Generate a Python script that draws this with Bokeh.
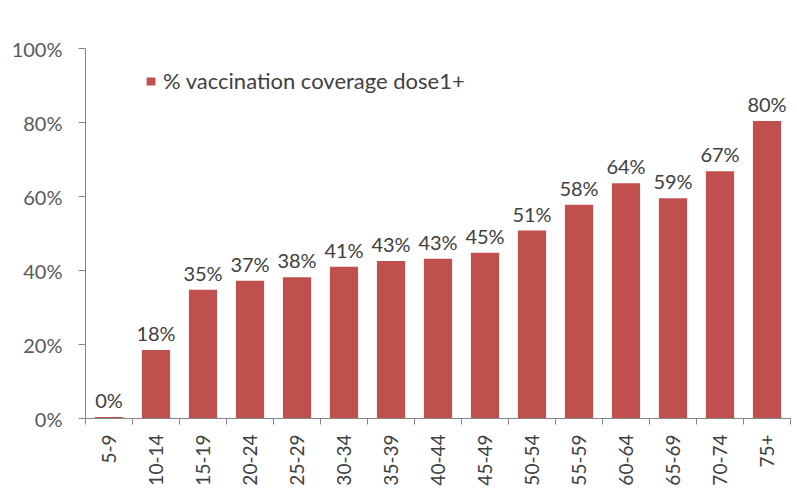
from math import pi
from bokeh.plotting import figure
from bokeh.models import ColumnDataSource, Range1d, FixedTicker, PrintfTickFormatter, Legend, LegendItem, LabelSet
from bokeh.core.properties import value
from bokeh.embed import file_html
from bokeh.resources import INLINE

categories = ["5-9", "10-14", "15-19", "20-24", "25-29", "30-34", "35-39", "40-44",
              "45-49", "50-54", "55-59", "60-64", "65-69", "70-74", "75+"]
coverage = [0.4, 18.5, 34.8, 37.2, 38.2, 41.0, 42.6, 43.2, 44.8, 50.8, 57.8, 63.6, 59.5, 66.8, 80.4]
labels = ["0%", "18%", "35%", "37%", "38%", "41%", "43%", "43%", "45%", "51%", "58%", "64%", "59%", "67%", "80%"]
series_name = "% vaccination coverage dose1+"

centers = [i + 0.5 for i in range(len(categories))]
bounds = [float(i) for i in range(len(categories) + 1)]

src = ColumnDataSource(dict(x=centers, top=coverage, lab=labels))

FONT = "Lato"
p = figure(width=792, height=488, output_backend="svg", toolbar_location=None,
           x_range=Range1d(0, len(categories)), y_range=Range1d(0, 100),
           min_border_left=85, min_border_top=48, min_border_bottom=70, min_border_right=2)
p.outline_line_color = None
p.xgrid.grid_line_color = None
p.ygrid.grid_line_color = None
p.background_fill_color = "white"
p.border_fill_color = "white"

r = p.vbar(x="x", top="top", width=0.6, bottom=0, source=src,
           fill_color="#C0504D", line_color=None)

lbl = LabelSet(x="x", y="top", text="lab", source=src, y_offset=5,
               text_align="center", text_baseline="bottom",
               text_font=value(FONT), text_font_size="20px", text_color="#404040")
p.add_layout(lbl)

# y axis
p.yaxis.ticker = FixedTicker(ticks=[0, 20, 40, 60, 80, 100])
p.yaxis.formatter = PrintfTickFormatter(format="%d%%")
p.yaxis.axis_line_color = "#868686"
p.yaxis.major_tick_line_color = "#868686"
p.yaxis.major_tick_out = 7
p.yaxis.major_tick_in = 0
p.yaxis.minor_tick_line_color = None
p.yaxis.major_label_text_font = FONT
p.yaxis.major_label_text_font_size = "20px"
p.yaxis.major_label_text_color = "#595959"
p.yaxis.major_label_standoff = 16

# x axis
p.xaxis.ticker = FixedTicker(ticks=centers, minor_ticks=bounds)
p.xaxis.major_label_overrides = {c: cat for c, cat in zip(centers, categories)}
p.xaxis.major_label_orientation = pi / 2
p.xaxis.axis_line_color = "#868686"
p.xaxis.major_tick_line_color = None
p.xaxis.minor_tick_line_color = "#868686"
p.xaxis.minor_tick_out = 6
p.xaxis.minor_tick_in = 0
p.xaxis.major_label_text_font = FONT
p.xaxis.major_label_text_font_size = "19px"
p.xaxis.major_label_text_color = "#404040"
p.xaxis.major_label_standoff = 10

legend = Legend(items=[LegendItem(label=series_name, renderers=[r])],
                location=(60, 324), padding=0, margin=0, border_line_color=None,
                background_fill_alpha=0, glyph_width=11, glyph_height=10,
                label_standoff=7, label_text_font=FONT, label_text_font_size="22px",
                label_text_color="#404040")
p.add_layout(legend)

open("out.html", "w").write(file_html(p, INLINE))
